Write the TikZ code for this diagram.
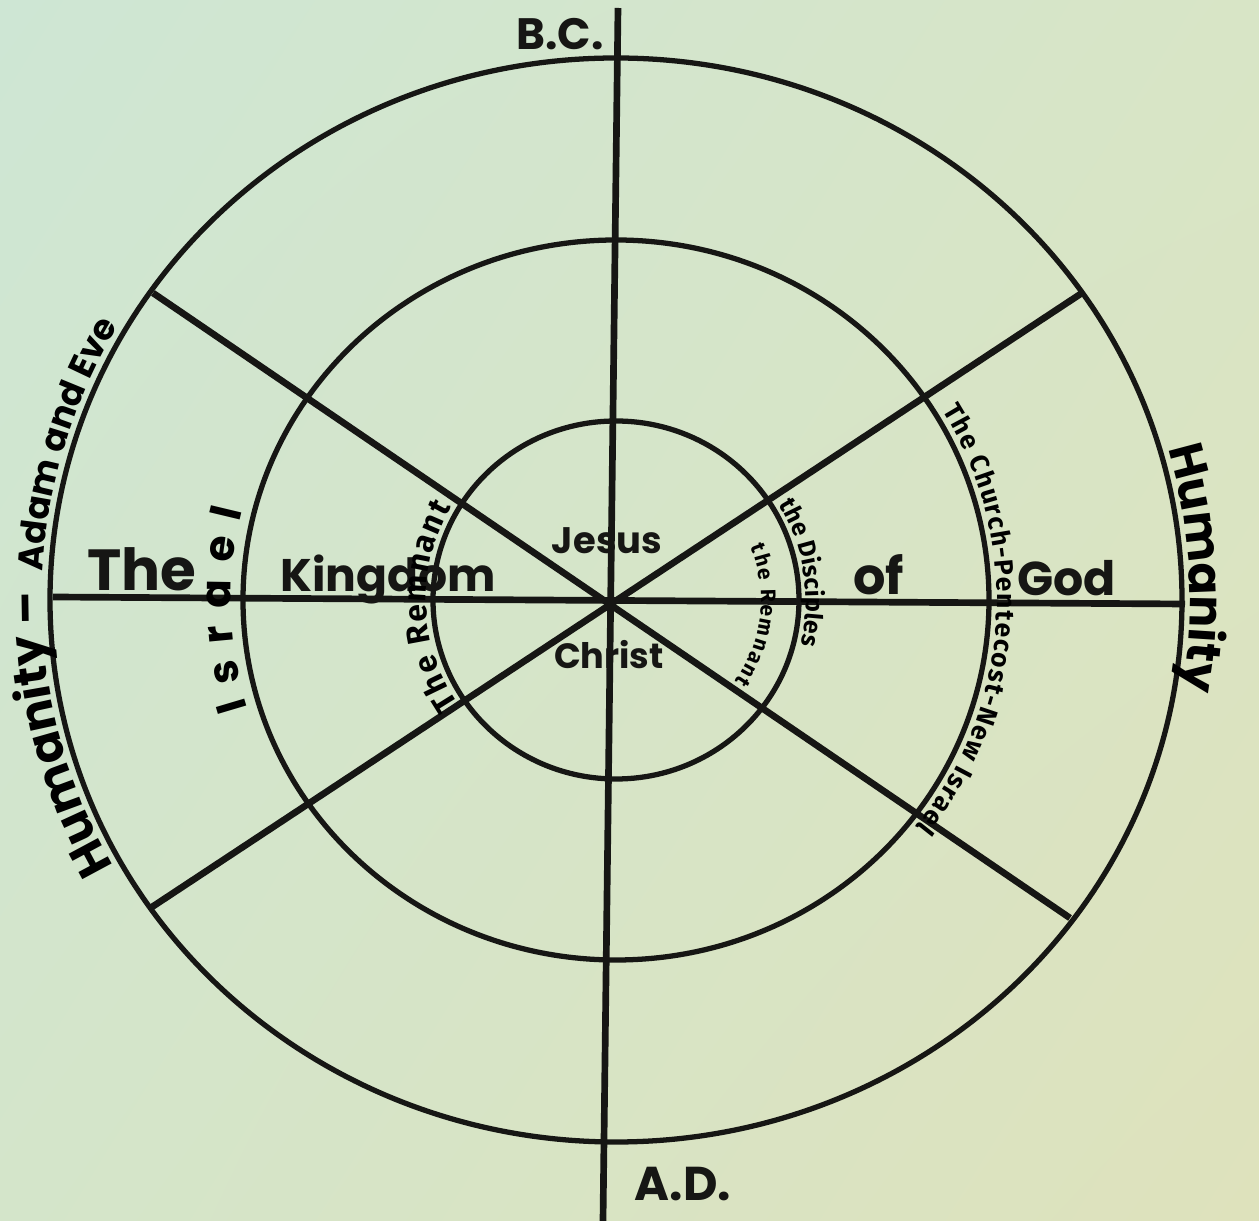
\documentclass[tikz,border=0pt]{standalone}
\usepackage{fontspec}
\setmainfont{Poppins}
\newfontfamily\slimhand{Fira Sans}
\usepackage{xcolor}
\usetikzlibrary{decorations.text}
\usetikzlibrary{shadings}
\usetikzlibrary{positioning}

\definecolor{ink}{RGB}{22,22,20}
\definecolor{paperNW}{RGB}{206,230,212}
\definecolor{paperNE}{RGB}{216,229,198}
\definecolor{paperSW}{RGB}{212,229,202}
\definecolor{paperSE}{RGB}{222,226,188}

\newcommand{\hand}[1]{\fontsize{#1}{#1}\selectfont\bfseries}
\newcommand{\slim}[1]{\slimhand\fontsize{#1}{#1}\selectfont\bfseries}

\begin{document}
\begin{tikzpicture}[
    x=0.02cm, y=0.02cm,
    ring/.style={draw=ink, line width=3pt},
    spoke/.style={draw=ink, line width=3.8pt},
    word/.style={text=ink, inner sep=0pt, font=\hand{#1}},
    arc label/.style={decorate, color=ink,
      decoration={text along path, text={#1}, text align={fit to path}}},
  ]

  \shade[upper left=paperNW, upper right=paperNE, lower left=paperSW, lower right=paperSE]
    (0,0) rectangle (1259,1221);
  \useasboundingbox (0,0) rectangle (1259,1221);

  \coordinate (o)    at (616,621);
  \coordinate (top)  at (618,1213);
  \coordinate (foot) at (603,0);
  \coordinate (w)    at (53,624);
  \coordinate (e)    at (1185,617);
  \coordinate (nw)   at (153,928);
  \coordinate (se)   at (1070,303);
  \coordinate (sw)   at (152,314);
  \coordinate (ne)   at (1082,928);

  \draw[ring] (o) ellipse [x radius=566, y radius=542];
  \draw[ring] (o) ellipse [x radius=373, y radius=360];
  \draw[ring] (o) ellipse [x radius=183, y radius=179];

  \draw[spoke] (top) -- (foot);
  \draw[spoke] (w) -- (e);
  \draw[spoke] (nw) -- (se);
  \draw[spoke] (sw) -- (ne);

  \node[word=25] (bc) at (560,1187) {B.C.};
  \node[word=27] (ad) at (683,37) {A.D.};

  \node[word=33, anchor=base west] (the)     at (87,630)   {The};
  \node[word=26, anchor=base west] (kingdom) at (280,629)  {Kingdom};
  \node[word=29, anchor=base west] (of)      at (853,626)  {of};
  \node[word=27, anchor=base west] (god)     at (1017,625) {God};

  \node[word=21] (jesus)  at (607,680) {Jesus};
  \node[word=20] (christ) at (609,566) {Christ};

  \path[arc label={|\hand{27}|Humanity –}, shift={(o)}]
    (209:574 and 550) arc [start angle=209, end angle=180, x radius=574, y radius=550];
  \path[arc label={|\hand{20}|Adam and Eve}, shift={(o)}]
    (177:574 and 550) arc [start angle=177, end angle=151, x radius=574, y radius=550];
  \path[arc label={|\hand{27}|Humanity}, shift={(o)}]
    (16:574 and 550) arc [start angle=16, end angle=-9, x radius=574, y radius=550];

  \path[arc label={|\hand{24}|Israel}, shift={(o)}]
    (197:385 and 372) arc [start angle=197, end angle=166, x radius=385, y radius=372];
  \path[arc label={|\slim{15}|The Church-Pentecost-New Israel},
        decoration={text align=center}, shift={(o)}]
    (31:381 and 368) arc [start angle=31, end angle=-38, x radius=381, y radius=368];

  \path[arc label={|\slim{18}|The Remnant}, shift={(o)}]
    (214:190 and 186) arc [start angle=214, end angle=150, x radius=190, y radius=186];
  \path[arc label={|\slim{14}|the Disciples}, shift={(o)}]
    (31:190 and 186) arc [start angle=31, end angle=-14, x radius=190, y radius=186];
  \path[arc label={|\slim{12}|the Remnant}, shift={(o)}]
    (22:145 and 142) arc [start angle=22, end angle=-35, x radius=145, y radius=142];

\end{tikzpicture}
\end{document}
